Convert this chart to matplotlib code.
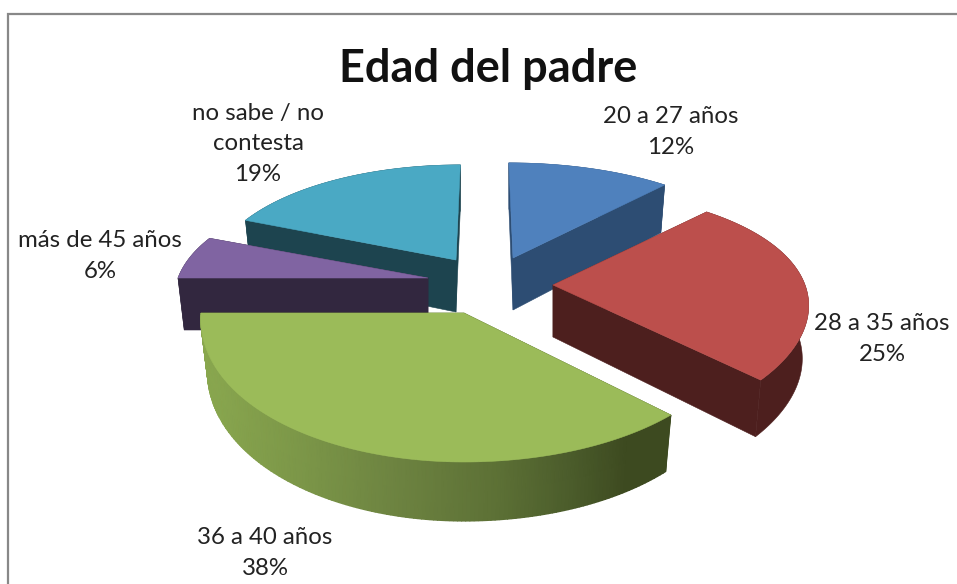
import numpy as np
import matplotlib
matplotlib.use("Agg")
import matplotlib.pyplot as plt
from matplotlib.colors import LinearSegmentedColormap

title = "Edad del padre"
categories = ["20 a 27 años", "28 a 35 años", "36 a 40 años", "más de 45 años", "no sabe / no\ncontesta"]
values = [12, 25, 38, 6, 19]

# layout and style (pixels)
apex = [(513, 258), (553, 285), (464, 313), (428, 278), (456, 260)]
persp_cx = [485, 553, 464, 428, 485]
rx_right = [255, 252, 276, 250, 243]
rx_left = [255, 252, 263, 250, 243]
ry = [117, 117, 149, 117, 117]
px = [0.175, 0.169, 0.04, 0.175, 0.175]
py = [0.23, 0.23, 0.0, 0.23, 0.23]
label_xy = [(671, 132), (882, 339), (265, 553), (100, 256), (258, 144)]
top_colors = ["#4f81bd", "#bc4f4c", "#9bbb59", "#8064a2", "#4aa9c4"]
wall_colors = ["#2d4d73", "#4d1f1e", "#3d4a20", "#32273f", "#1d444f"]
draw_order = [4, 0, 3, 1, 2]
DEPTH, DEPTH_P, BOTTOM_SHRINK = 52, 0.12, 0.975
ramp_x0, ramp_x1 = 200, 670
green_ramp = [(0.0, "#8aa84f"), (0.21, "#7c9748"), (0.43, "#6c8240"), (0.64, "#5c7035"),
              (0.79, "#4b5c2b"), (0.91, "#3d4a20"), (1.0, "#3d4a20")]

fig = plt.figure(figsize=(9.57, 5.84), dpi=100)
ax = fig.add_axes([0, 0, 1, 1])
ax.set_xlim(0, 957)
ax.set_ylim(584, 0)
ax.axis("off")

ax.plot([8, 8, 957], [584, 14, 14], color="#888888", lw=1.6, solid_joinstyle="miter")


def project(i, theta):
    c = -np.cos(theta)
    s = np.sin(theta)
    x0, y0 = apex[i]
    rx = np.where(s >= 0, rx_right[i], rx_left[i])
    fx = 1 / (1 - px[i] * c)
    fy = 1 / (1 - py[i] * c)
    x = persp_cx[i] + (x0 - persp_cx[i] + rx * s) * fx
    y = y0 + ry[i] * c * fy
    xb = x0 + (x - x0) * BOTTOM_SHRINK
    yb = y + DEPTH / (1 - DEPTH_P * c)
    return x, y, xb, yb


def poly(x, y, color, z):
    ax.fill(x, y, facecolor=color, edgecolor=color, lw=0.4, zorder=z)


cmap = LinearSegmentedColormap.from_list("rim", green_ramp)
edges = np.cumsum([0] + values) / sum(values) * 2 * np.pi
for z, i in enumerate(draw_order):
    a0, a1 = edges[i], edges[i + 1]
    x0, y0 = apex[i]
    th = np.linspace(a0, a1, 160)
    base = 10 * z
    wall = wall_colors[i]
    # radial faces
    for edge in (a0, a1):
        ex, ey, bx, by = project(i, np.array(edge))
        poly([x0, ex, bx, x0], [y0, ey, by, y0 + DEPTH], wall, base + 1)
    # outer rim
    tx, ty, bx, by = project(i, th)
    if i == 2:
        X = np.vstack([tx, bx])
        Y = np.vstack([ty, by])
        ax.pcolormesh(X, Y, X, shading="gouraud", cmap=cmap, vmin=ramp_x0, vmax=ramp_x1,
                      zorder=base + 2, rasterized=True)
    else:
        poly(np.r_[tx, bx[::-1]], np.r_[ty, by[::-1]], wall, base + 2)
    # top face
    poly(np.r_[x0, tx], np.r_[y0, ty], top_colors[i], base + 3)

ax.set_xlim(0, 957)
ax.set_ylim(584, 0)

for cat, val, (lx, ly) in zip(categories, values, label_xy):
    ax.text(lx, ly, f"{cat}\n{val}%", ha="center", va="center", fontsize=17.3,
            color="#222222", linespacing=1.57, zorder=100, family=["Lato", "DejaVu Sans"])

ax.text(488, 69, title, ha="center", va="center", fontsize=32.5, fontweight="bold",
        color="#111111", zorder=100, family=["Lato", "DejaVu Sans"])

fig.savefig("out.png", dpi=100)
